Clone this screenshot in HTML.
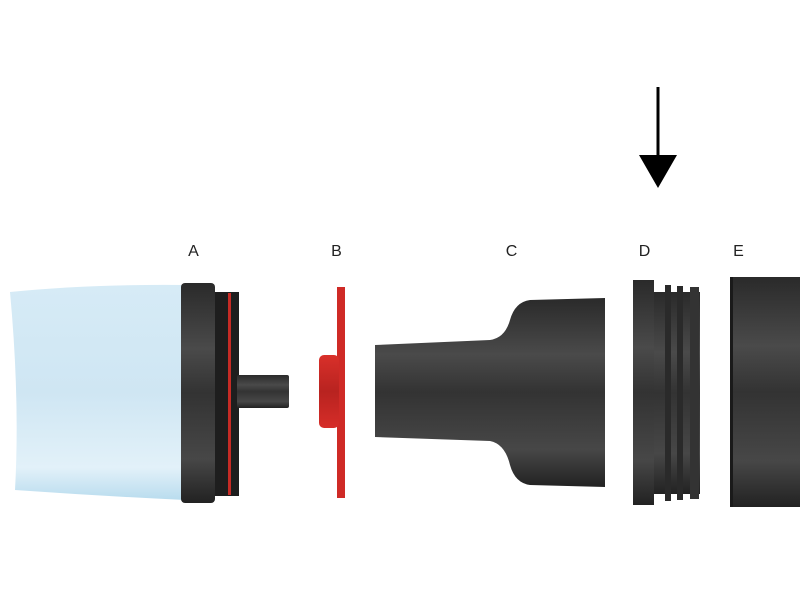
<!DOCTYPE html>
<html><head><style>body{margin:0;background:#fff}svg{display:block}</style></head><body>
<svg width="800" height="600" viewBox="0 0 800 600" xmlns="http://www.w3.org/2000/svg">
<defs>
<linearGradient id="dk" x1="0" y1="0" x2="0" y2="1">
<stop offset="0" stop-color="#2a2a2a"/><stop offset="0.3" stop-color="#4a4a4a"/><stop offset="0.5" stop-color="#333"/><stop offset="0.8" stop-color="#474747"/><stop offset="1" stop-color="#222"/></linearGradient>
<linearGradient id="bl" x1="0" y1="0" x2="0" y2="1">
<stop offset="0" stop-color="#d6ebf6"/><stop offset="0.5" stop-color="#cfe6f3"/><stop offset="0.85" stop-color="#e2f1f9"/><stop offset="1" stop-color="#b9dcee"/></linearGradient>
<linearGradient id="rd" x1="0" y1="0" x2="0" y2="1">
<stop offset="0" stop-color="#d9302a"/><stop offset="0.5" stop-color="#b82320"/><stop offset="1" stop-color="#d62d28"/></linearGradient>
</defs>
<g font-family="Liberation Sans, sans-serif" font-size="16" fill="#222" text-anchor="middle" letter-spacing="1">
<text x="194" y="256">A</text><text x="337" y="256">B</text><text x="512" y="256">C</text><text x="645" y="256">D</text><text x="739" y="256">E</text></g>
<line x1="658" y1="87" x2="658" y2="158" stroke="#000" stroke-width="3"/>
<polygon points="639,155 677,155 658,188" fill="#000"/>
<!-- bag -->
<path d="M10,292 Q90,284 185,285 L185,500 Q100,496 15,490 Q20,400 10,292Z" fill="url(#bl)"/>
<!-- A -->
<rect x="215" y="292" width="24" height="204" fill="#1e1e1e"/>
<rect x="228" y="293" width="3" height="202" fill="#c62b25"/>
<rect x="181" y="283" width="34" height="220" rx="4" fill="url(#dk)"/>
<rect x="237" y="375" width="52" height="33" rx="2" fill="url(#dk)"/>
<!-- B -->
<rect x="337" y="287" width="8" height="211" fill="#cf2a26"/>
<rect x="319" y="355" width="20" height="73" rx="5" fill="url(#rd)"/>
<!-- C -->
<path d="M375,345 L490,340 Q505,338 510,320 Q515,302 530,300 L605,298 L605,487 L530,485 Q515,483 510,465 Q505,444 490,441 L375,437Z" fill="url(#dk)"/>
<!-- D -->
<rect x="654" y="292" width="46" height="202" fill="url(#dk)"/>
<rect x="665" y="285" width="6" height="216" fill="#2a2a2a"/>
<rect x="677" y="286" width="6" height="214" fill="#2a2a2a"/>
<rect x="690" y="287" width="9" height="212" fill="#333"/>
<rect x="633" y="280" width="21" height="225" fill="url(#dk)"/>
<!-- E -->
<rect x="730" y="277" width="70" height="230" fill="url(#dk)"/>
<rect x="730" y="277" width="3" height="230" fill="#1a1a1a"/>
</svg>
</body></html>
